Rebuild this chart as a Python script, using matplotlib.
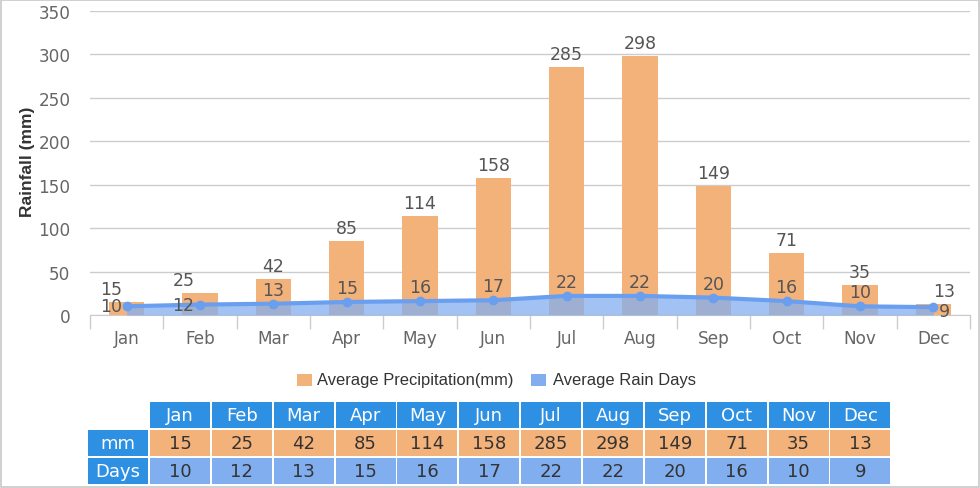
import matplotlib.pyplot as plt
from matplotlib.patches import Rectangle

plt.rcParams['font.family'] = ['DejaVu Sans']

months = ['Jan', 'Feb', 'Mar', 'Apr', 'May', 'Jun',
          'Jul', 'Aug', 'Sep', 'Oct', 'Nov', 'Dec']
precip_mm = [15, 25, 42, 85, 114, 158, 285, 298, 149, 71, 35, 13]
rain_days = [10, 12, 13, 15, 16, 17, 22, 22, 20, 16, 10, 9]
y_ticks = [0, 50, 100, 150, 200, 250, 300, 350]

# label nudges (pixels) the original chart applies to crowded labels
bar_lbl_dx = [-16, -16, 0, 0, 0, 0, 0, 0, 0, 0, 0, 11]
day_lbl_dx = [-16, -17, 0, 0, 0, 0, 0, 0, 0, 0, 0, 11]
day_lbl_dy = [0, 0, 14, 14, 14, 14, 14, 14, 14, 14, 14, -4]

ORANGE = '#f4b27b'
BLUE_LINE = '#6a9ff0'
BLUE_FILL = '#82aef0'
HEAD_BLUE = '#2e90e2'
DAYS_BLUE = '#80aeee'
GRID = '#cccccc'
LBL = '#555555'

W, H = 980, 489
fig = plt.figure(figsize=(W / 100, H / 100), dpi=100)

ax = fig.add_axes([90 / W, (H - 316) / H, 880 / W, 304 / H])
x = list(range(len(months)))
ax.set_xlim(-0.5, 11.5)
ax.set_ylim(0, 350)

ax.bar(x, precip_mm, width=0.48, color=ORANGE, zorder=2)
ax.fill_between(x, rain_days, 0, color=BLUE_FILL, alpha=0.75, lw=0, zorder=3)
ax.plot(x, rain_days, color=BLUE_LINE, lw=3, marker='o', ms=6, zorder=4)

for i in x:
    ax.annotate(str(precip_mm[i]), (i, precip_mm[i]),
                xytext=(bar_lbl_dx[i], 13), textcoords='offset pixels',
                ha='center', va='center', fontsize=12.5, color=LBL, zorder=5)
    ax.annotate(str(rain_days[i]), (i, rain_days[i]),
                xytext=(day_lbl_dx[i], day_lbl_dy[i]), textcoords='offset pixels',
                ha='center', va='center', fontsize=12.5, color=LBL, zorder=5)

ax.set_yticks(y_ticks)
ax.set_yticklabels([str(v) for v in y_ticks], fontsize=12.2, color='#666666')
ax.tick_params(axis='y', length=0, pad=14)
ax.yaxis.grid(True, color=GRID, lw=1)
ax.set_axisbelow(True)

ax.set_xticks(x)
ax.set_xticklabels(months, fontsize=12.2, color='#666666')
ax.set_xticks([i - 0.5 for i in range(13)], minor=True)
ax.tick_params(axis='x', which='major', length=0, pad=10)
ax.tick_params(axis='x', which='minor', length=10, color=GRID, width=1)

for s in ['top', 'right', 'left']:
    ax.spines[s].set_visible(False)
ax.spines['bottom'].set_color(GRID)

ax.set_ylabel('Rainfall (mm)', fontsize=12.5, fontweight='bold',
              family='Liberation Sans', color='#333333')
ax.yaxis.set_label_coords(-55 / 880, 0.507)

# overlay in pixel coordinates for legend, table and border
ov = fig.add_axes([0, 0, 1, 1], zorder=-1)
ov.set_xlim(0, W)
ov.set_ylim(H, 0)
ov.axis('off')

ov.add_patch(Rectangle((1, 1), W - 2.5, H - 2.5, fill=False, ec='#c8c8c8', lw=1.2))

# legend
ov.add_patch(Rectangle((297, 375), 15, 12, color=ORANGE, lw=0))
ov.text(317, 381, 'Average Precipitation(mm)', fontsize=11.9, family='Liberation Sans',
        color='#333333', va='center', ha='left')
ov.add_patch(Rectangle((531, 375), 15, 12, color=BLUE_FILL, lw=0))
ov.text(553, 381, 'Average Rain Days', fontsize=11.9, family='Liberation Sans',
        color='#333333', va='center', ha='left')

# data table
col0, first_w = 88, 60
start, pitch, cw = 150, 61.85, 60
rows_y = [403, 431, 459]
rh = 26
row_colors = [HEAD_BLUE, ORANGE, DAYS_BLUE]
row_values = [months, [str(v) for v in precip_mm], [str(v) for v in rain_days]]
row_names = ['', 'mm', 'Days']
txt_colors = ['white', '#333333', '#333333']

for r in range(3):
    y0 = rows_y[r]
    if row_names[r]:
        ov.add_patch(Rectangle((col0, y0), first_w, rh, color=HEAD_BLUE, lw=0))
        ov.text(col0 + first_w / 2, y0 + rh / 2, row_names[r], fontsize=13,
                color='white', ha='center', va='center')
    for c in range(12):
        cx = start + c * pitch
        ov.add_patch(Rectangle((cx, y0), cw, rh, color=row_colors[r], lw=0))
        ov.text(cx + cw / 2, y0 + rh / 2, row_values[r][c], fontsize=13,
                color=txt_colors[r], ha='center', va='center')

fig.savefig('out.png', dpi=100)
